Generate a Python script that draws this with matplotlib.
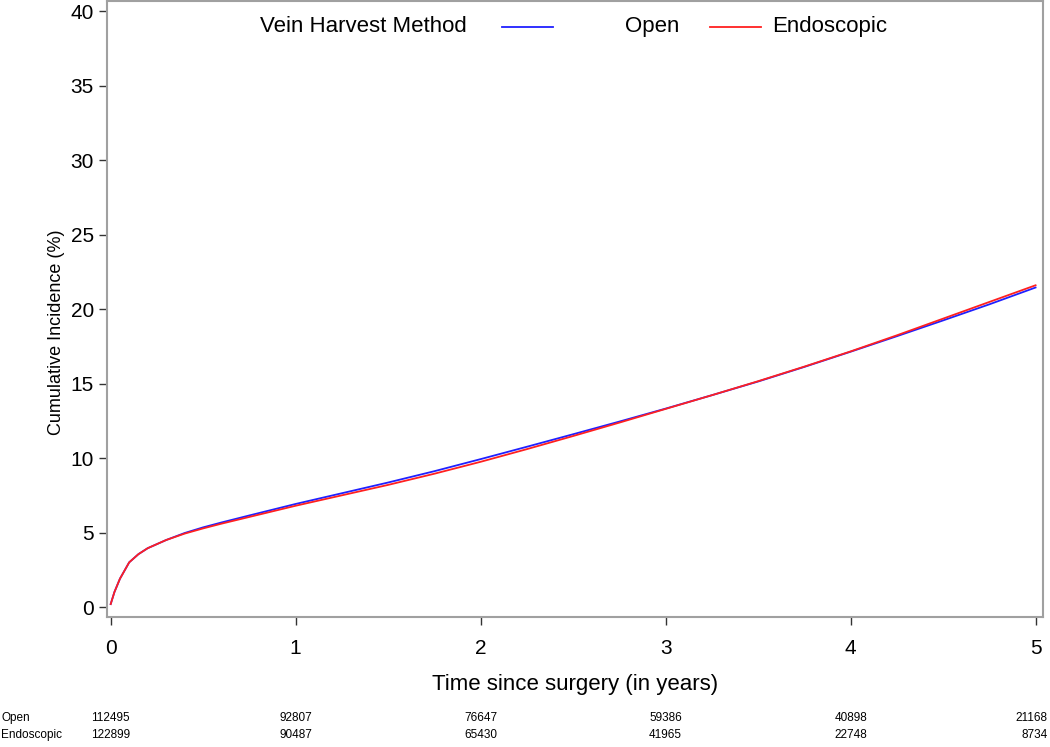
import matplotlib
matplotlib.use('Agg')
import matplotlib.pyplot as plt
from matplotlib import font_manager

# cumulative incidence (%)
years = [0, 0.02, 0.05, 0.1, 0.15, 0.2, 0.3, 0.4, 0.5, 0.6, 0.75, 1.0, 1.25, 1.5,
         1.75, 2.0, 2.25, 2.5, 2.75, 3.0, 3.25, 3.5, 3.75, 4.0, 4.25, 4.5, 4.75, 5.0]
open_ci = [0.2, 1.0, 1.9, 3.0, 3.55, 3.95, 4.5, 4.97, 5.35, 5.68, 6.15, 6.92, 7.64, 8.36,
           9.12, 9.93, 10.76, 11.6, 12.45, 13.32, 14.22, 15.14, 16.12, 17.14, 18.18, 19.24, 20.32, 21.45]
endo_ci = [0.2, 1.0, 1.9, 3.0, 3.55, 3.95, 4.5, 4.93, 5.28, 5.6, 6.05, 6.8, 7.5, 8.2,
           8.95, 9.75, 10.6, 11.48, 12.38, 13.3, 14.22, 15.16, 16.14, 17.16, 18.24, 19.36, 20.48, 21.6]

# numbers at risk
risk_times = [0, 1, 2, 3, 4, 5]
open_risk = [112495, 92807, 76647, 59386, 40898, 21168]
endo_risk = [122899, 90487, 65430, 41965, 22748, 8734]

plt.rcParams['font.family'] = ['Liberation Sans', 'DejaVu Sans']

# condensed face for the at-risk table, if one is around
names = {f.name for f in font_manager.fontManager.ttflist}
narrow, nsize = 'Liberation Sans', 8.5
for cand in ['Liberation Sans Narrow', 'DejaVu Sans Condensed']:
    if cand in names:
        narrow, nsize = cand, 10
        break

fig = plt.figure(figsize=(10.5, 7.47), dpi=100)
ax = fig.add_axes([0.1019, 0.174, 0.8914, 0.825])

ax.plot(years, open_ci, color='#2020ff', lw=1.3)
ax.plot(years, endo_ci, color='#ff2020', lw=1.3)

ax.set_xlim(-0.02, 5.04)
ax.set_ylim(-0.67, 40.7)
ax.set_xticks(range(0, 6))
ax.set_yticks(range(0, 45, 5))
ax.tick_params(labelsize=15, length=6, width=1, color='#333333')
ax.tick_params(axis='x', pad=10)

for s in ax.spines.values():
    s.set_color('#a0a0a0')
    s.set_linewidth(1.5)

ax.set_xlabel('Time since surgery (in years)', fontsize=16, labelpad=11)
ax.set_ylabel('Cumulative Incidence (%)', fontsize=13)
ax.yaxis.set_label_coords(-0.045, 0.462)

# legend, laid out SAS style across the top
ly = 0.958
ax.text(0.1635, ly, 'Vein Harvest Method', transform=ax.transAxes, fontsize=16, va='center')
ax.plot([0.422, 0.4765], [ly, ly], transform=ax.transAxes, color='#2020ff', lw=1.3)
ax.text(0.553, ly, 'Open', transform=ax.transAxes, fontsize=16, va='center')
ax.plot([0.644, 0.699], [ly, ly], transform=ax.transAxes, color='#ff2020', lw=1.3)
ax.text(0.7105, ly, 'Endoscopic', transform=ax.transAxes, fontsize=16, va='center')

# at-risk table
y1, y2 = 1 - 718 / 747, 1 - 735 / 747
fig.text(0.001, y1, 'Open', fontsize=nsize, family=narrow, va='center')
fig.text(0.001, y2, 'Endoscopic', fontsize=nsize, family=narrow, va='center')
inv = fig.transFigure.inverted()
for i, (t, o, e) in enumerate(zip(risk_times, open_risk, endo_risk)):
    xf = inv.transform(ax.transData.transform((t, 0)))[0]
    ha = 'center'
    if i == len(risk_times) - 1:
        xf, ha = 0.998, 'right'
    fig.text(xf, y1, str(o), fontsize=nsize, family=narrow, va='center', ha=ha)
    fig.text(xf, y2, str(e), fontsize=nsize, family=narrow, va='center', ha=ha)

fig.savefig('out.png', dpi=100)
